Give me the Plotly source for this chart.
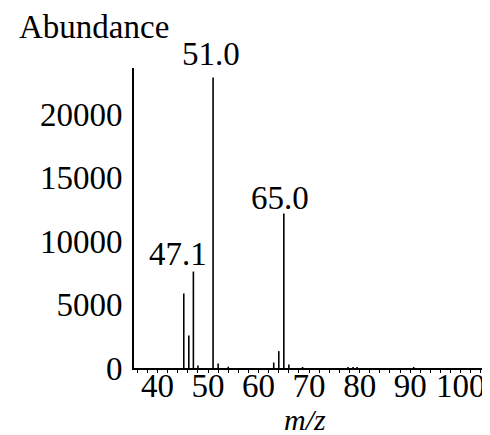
import plotly.graph_objects as go

# m/z values and abundances
mz = [45.2, 46.2, 47.1, 48.0, 51.0, 52.0, 54.0, 63.0, 64.0, 65.0, 66.0, 68.7, 77.7, 78.7, 79.5, 90.7]
abundance = [5880, 2560, 7610, 200, 22920, 350, 100, 430, 1330, 12190, 280, 80, 80, 80, 80, 80]

# labelled peaks
label_mz = [47.1, 51.0, 65.0]
label_ab = [7610, 22920, 12190]
label_text = ["47.1", "51.0", "65.0"]
label_dx = [-15, -2, -4]
label_dy = [18, 24, 16]

x_ticks = [40, 50, 60, 70, 80, 90, 100]
y_ticks = [0, 5000, 10000, 15000, 20000]

xs, ys = [], []
for m, a in zip(mz, abundance):
    xs += [m, m, None]
    ys += [0, a, None]

FONT = "Liberation Serif"
FS = 33

fig = go.Figure()
fig.add_trace(go.Scatter(x=xs, y=ys, mode="lines",
                         line=dict(color="black", width=1.6),
                         hoverinfo="skip", showlegend=False))

for m, a, t, dx, dy in zip(label_mz, label_ab, label_text, label_dx, label_dy):
    fig.add_annotation(x=m, y=a, text=t, showarrow=False, xanchor="center",
                       yanchor="middle", xshift=dx, yshift=dy,
                       font=dict(family=FONT, size=FS, color="black"))

fig.add_annotation(xref="paper", yref="paper", x=-0.111, y=1.138, text="Abundance",
                   showarrow=False, xanchor="center", yanchor="middle",
                   font=dict(family=FONT, size=FS, color="black"))
fig.add_annotation(xref="paper", yref="paper", x=0.48, y=-0.173, text="<i>m/z</i>",
                   showarrow=False, xanchor="center", yanchor="middle",
                   font=dict(family=FONT, size=30, color="black"))

# the page body has an 8px margin, so the figure is sized to fit the window
fig.update_layout(
    width=482, height=427,
    margin=dict(l=126, r=0, t=60, b=67),
    paper_bgcolor="white", plot_bgcolor="white",
    font=dict(family=FONT, size=FS, color="black"),
    xaxis=dict(range=[35.35, 105.8], tickvals=x_ticks, ticktext=[str(v) for v in x_ticks],
               showgrid=False, zeroline=False, showline=True, linecolor="black", linewidth=1.6,
               ticks="outside", ticklen=3, tickwidth=1, tickcolor="black",
               minor=dict(dtick=2, tick0=0, ticks="outside", ticklen=3, tickwidth=1, tickcolor="black"),
               ticklabelstandoff=-15, automargin=False),
    yaxis=dict(range=[0, 23670], tickvals=y_ticks, ticktext=[str(v) for v in y_ticks],
               showgrid=False, zeroline=False, showline=True, linecolor="black", linewidth=1.6,
               ticks="", ticklabelstandoff=3, automargin=False),
)

fig.write_html("out.html")
